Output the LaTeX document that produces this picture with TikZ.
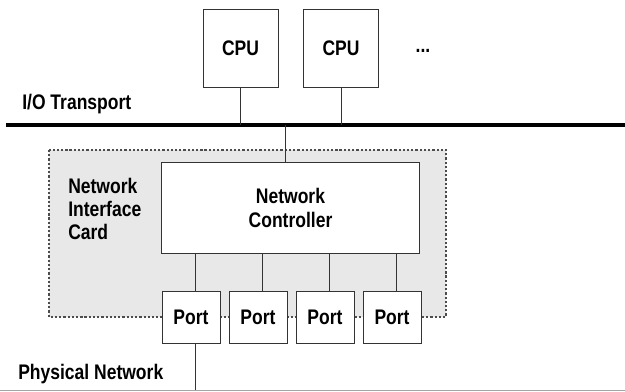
\documentclass[tikz,border=0pt]{standalone}
\usepackage{fontspec}
\setmainfont{Liberation Sans}[FakeStretch=0.83]
\usetikzlibrary{positioning, backgrounds}
\tikzset{
  unit/.style={rectangle, draw=black!80, line width=0.7pt, fill=white,
    text centered, font=\fontsize{15}{17}\selectfont\bfseries},
  cpu/.style={unit, minimum width=1.875cm, minimum height=1.925cm},
  port/.style={unit, minimum width=1.45cm, minimum height=1.275cm, inner sep=0pt},
  lbl/.style={font=\fontsize{15}{16.5}\selectfont\bfseries, inner sep=0pt},
  wire/.style={draw=black!80, line width=0.7pt},
  bus/.style={draw=black, line width=2.2pt},
  card/.style={draw=black!70, fill=black!9, line width=0.8pt,
    dash pattern=on 1.6pt off 1.4pt},
}

\begin{document}
\begin{tikzpicture}[x=0.025cm, y=-0.025cm]
  \useasboundingbox (0,0) rectangle (625,392);

  % Host side
  \node[cpu] (cpu1) at (240.5,48.5) {CPU};
  \node[cpu] (cpu2) at (341,48.5) {CPU};
  \node[lbl] (more) at (423,51) {...};
  \node[lbl, anchor=west] (iolbl) at (22,104) {I/O Transport};

  \coordinate (busL) at (6,125);
  \coordinate (busR) at (625,125);
  \draw[bus] (busL) -- (busR);

  % Card
  \node[unit, minimum width=6.425cm, minimum height=2.25cm, align=center]
    (ctrl) at (290.5,208) {Network\\Controller};
  \node[lbl, anchor=west, align=left] (niclbl) at (68,209) {Network\\Interface\\Card};

  \node[port] (p1) at (191,317.5) {Port};
  \node[port, right=0.2cm of p1] (p2) {Port};
  \node[port, right=0.2cm of p2] (p3) {Port};
  \node[port, right=0.2cm of p3] (p4) {Port};

  \node[lbl, anchor=west] (physlbl) at (18,374) {Physical Network};

  % Wires
  \draw[wire] (cpu1.south) -- (cpu1.south |- busL);
  \draw[wire] (cpu2.south) -- (cpu2.south |- busL);
  \coordinate (nicTap) at (285,125);
  \draw[wire] (nicTap) -- (nicTap |- ctrl.north);
  \foreach \p in {p1,p2,p3,p4}
    \draw[wire] ([xshift=3]\p.north) -- ([xshift=3]\p.north |- ctrl.south);
  \coordinate (netL) at (0,390.5);
  \coordinate (netR) at (625,390.5);
  \draw[wire] ([xshift=3]p1.south) -- ([xshift=3]p1.south |- netL);
  \draw[draw=black!35, line width=0.8pt] (netL) -- (netR);

  \begin{scope}[on background layer]
    \draw[card] (49,150) rectangle (446,317);
  \end{scope}
\end{tikzpicture}
\end{document}
